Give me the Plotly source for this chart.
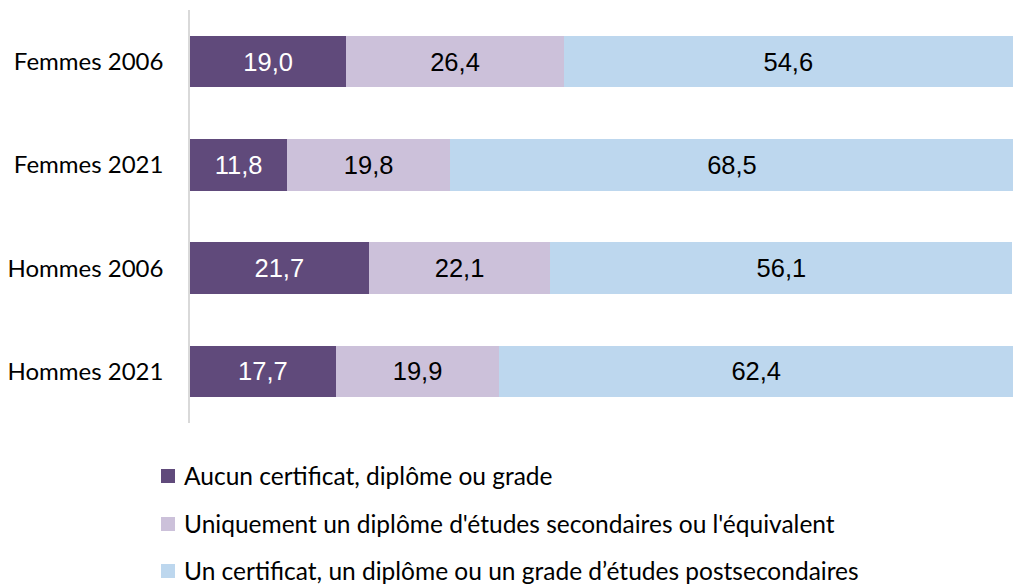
import plotly.graph_objects as go

categories = ["Femmes 2006", "Femmes 2021", "Hommes 2006", "Hommes 2021"]
series_names = [
    "Aucun certificat, diplôme ou grade",
    "Uniquement un diplôme d'études secondaires ou l'équivalent",
    "Un certificat, un diplôme ou un grade d’études postsecondaires",
]
aucun = [19.0, 11.8, 21.7, 17.7]
secondaire = [26.4, 19.8, 22.1, 19.9]
postsec = [54.6, 68.5, 56.1, 62.4]
colors = ["#604A7B", "#CCC1DA", "#BDD7EE"]
text_colors = ["white", "black", "black"]

W, H = 1013, 585
ML, MR, MT, MB = 190, 0, 10, 162
PW, PH = W - ML - MR, H - MT - MB


def px_x(x):
    return (x - ML) / PW


def px_y(y):
    return (H - MB - y) / PH


fig = go.Figure()
for name, vals, col, tcol in zip(series_names, [aucun, secondaire, postsec], colors, text_colors):
    fig.add_trace(go.Bar(
        y=categories, x=vals, name=name, orientation="h",
        marker=dict(color=col, line=dict(width=0)),
        texttemplate="%{x:.1f}", textposition="inside", insidetextanchor="middle",
        textangle=0,
        textfont=dict(family="Liberation Sans, Arial", size=25.5, color=tcol),
        hoverinfo="skip", showlegend=False,
    ))

# Legend drawn as shapes + annotations (stacked vertically below the chart)
legend_rows_y = [476, 524, 571]
for name, col, ly in zip(series_names, colors, legend_rows_y):
    fig.add_shape(type="rect", xref="paper", yref="paper",
                  x0=px_x(161), x1=px_x(175), y0=px_y(ly + 7), y1=px_y(ly - 7),
                  fillcolor=col, line=dict(width=0), layer="above")
    fig.add_annotation(text=name, xref="paper", yref="paper",
                       x=px_x(182), y=px_y(ly - 1), xanchor="left", yanchor="middle",
                       showarrow=False, font=dict(family="Lato", size=24.5, color="black"))

fig.update_layout(
    barmode="stack", bargap=0.5,
    separators=", ",
    width=W, height=H,
    margin=dict(l=ML, r=MR, t=MT, b=MB),
    plot_bgcolor="white", paper_bgcolor="white",
    uniformtext=dict(minsize=25.5, mode="show"),
    xaxis=dict(range=[0, 100], visible=False, showgrid=False, zeroline=False),
    yaxis=dict(categoryorder="array", categoryarray=categories, autorange="reversed",
               showline=True, linecolor="#D9D9D9", linewidth=1.5,
               ticks="", ticklabelstandoff=20,
               tickfont=dict(family="Lato", size=24, color="black"), showgrid=False),
    showlegend=False,
)

fig.write_html("out.html", config={"displayModeBar": False},
               post_script="document.body.style.margin='0px';document.body.style.overflow='hidden';")
